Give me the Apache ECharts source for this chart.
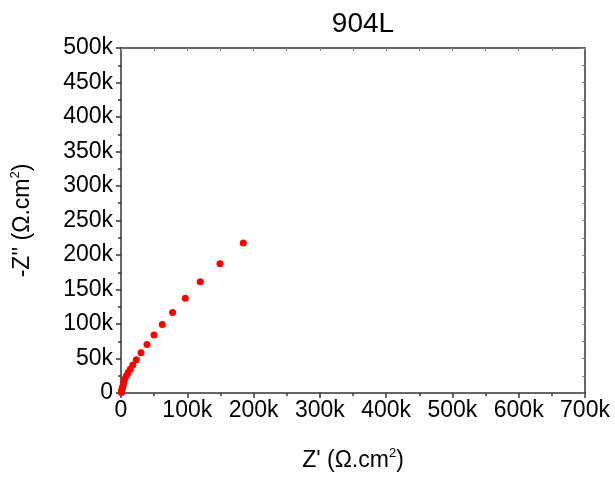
<!DOCTYPE html>
<html>
<head>
<meta charset="utf-8">
<script src="https://cdn.jsdelivr.net/npm/echarts@6/dist/echarts.min.js"></script>
<style>
  html, body { margin: 0; padding: 0; background: #fff; }
  #chart { width: 615px; height: 478px; }
</style>
</head>
<body>
<div id="chart"></div>
<script>
// Nyquist plot for 904L stainless steel (impedance in ohm·cm²)
const zReal = [184500, 149300, 119600, 97000, 77800, 62300, 49800, 39200, 30200, 23100,
               17800, 14000, 10600, 8000, 5400, 3900, 3000, 2000, 1500, 1100, 800, 600];
const zImag = [217500, 187200, 161100, 137400, 116700, 99400, 83900, 70400, 58400, 48300,
               40500, 34300, 29500, 24600, 19800, 15000, 10100, 7500, 5400, 3400, 1800, 700];
const xTicks = [0, 100000, 200000, 300000, 400000, 500000, 600000, 700000];
const yTicks = [0, 50000, 100000, 150000, 200000, 250000, 300000, 350000, 400000, 450000, 500000];

const points = zReal.map((x, i) => [x, zImag[i]]);
const kFmt = v => (v === 0 ? '0' : (v / 1000) + 'k');
const font = 'Arial, "Liberation Sans", sans-serif';
const lineColor = '#333';
const supStyle = { fontFamily: font, fontSize: 13, color: '#000', verticalAlign: 'top', padding: [0, 0, 14, 0] };

const chart = echarts.init(document.getElementById('chart'), null, { renderer: 'canvas' });
chart.setOption({
  animation: false,
  backgroundColor: '#fff',
  title: {
    text: '904L',
    left: 358,
    top: 5,
    textAlign: 'center',
    textStyle: { fontFamily: font, fontSize: 28, fontWeight: 'normal', color: '#000' }
  },
  grid: { left: 121, right: 30, top: 48, bottom: 85 },
  xAxis: [{
    type: 'value',
    min: xTicks[0], max: xTicks[xTicks.length - 1], interval: 100000,
    position: 'bottom',
    name: "Z' (Ω.cm{s|2})",
    nameLocation: 'middle',
    nameGap: 54,
    nameTextStyle: { fontFamily: font, fontSize: 23, color: '#000', rich: { s: supStyle } },
    axisLine: { show: true, onZero: false, lineStyle: { color: lineColor, width: 1.5 } },
    axisTick: { show: true, inside: false, length: 5, lineStyle: { color: lineColor, width: 1.5 } },
    minorTick: { show: true, splitNumber: 2, length: 3, lineStyle: { color: lineColor, width: 1.5 } },
    splitLine: { show: false },
    axisLabel: { formatter: kFmt, fontFamily: font, fontSize: 23, color: '#000', margin: 6 }
  }, {
    type: 'value',
    min: xTicks[0], max: xTicks[xTicks.length - 1], interval: 50000,
    position: 'top',
    axisLine: { show: true, onZero: false, lineStyle: { color: lineColor, width: 1.5 } },
    axisTick: { show: true, inside: true, length: 3, lineStyle: { color: '#888', width: 1 } },
    splitLine: { show: false },
    axisLabel: { show: false }
  }],
  yAxis: [{
    type: 'value',
    min: yTicks[0], max: yTicks[yTicks.length - 1], interval: 50000,
    position: 'left',
    name: "-Z'' (Ω.cm{s|2})",
    nameLocation: 'middle',
    nameGap: 85,
    nameTextStyle: { fontFamily: font, fontSize: 23, color: '#000', rich: { s: supStyle } },
    axisLine: { show: true, onZero: false, lineStyle: { color: lineColor, width: 1.5 } },
    axisTick: { show: true, inside: false, length: 5, lineStyle: { color: lineColor, width: 1.5 } },
    minorTick: { show: true, splitNumber: 2, length: 3, lineStyle: { color: lineColor, width: 1.5 } },
    splitLine: { show: false },
    axisLabel: { formatter: kFmt, fontFamily: font, fontSize: 23, color: '#000', margin: 8 }
  }, {
    type: 'value',
    min: yTicks[0], max: yTicks[yTicks.length - 1], interval: 25000,
    position: 'right',
    axisLine: { show: true, onZero: false, lineStyle: { color: lineColor, width: 1.5 } },
    axisTick: { show: true, inside: true, length: 3, lineStyle: { color: '#888', width: 1 } },
    splitLine: { show: false },
    axisLabel: { show: false }
  }],
  series: [{
    type: 'scatter',
    xAxisIndex: 0,
    yAxisIndex: 0,
    data: points,
    symbol: 'circle',
    symbolSize: 7,
    itemStyle: { color: '#ff0000', opacity: 1 }
  }]
});
</script>
</body>
</html>
